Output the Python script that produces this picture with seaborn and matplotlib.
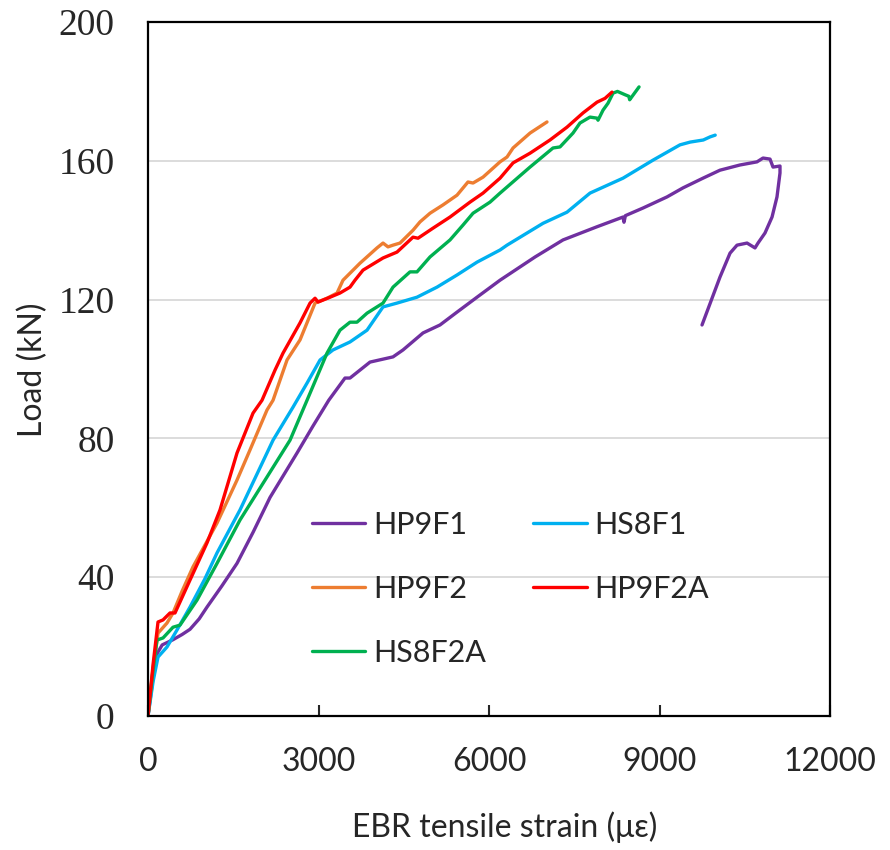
import numpy as np
import matplotlib
matplotlib.use("Agg")
import matplotlib.pyplot as plt
import seaborn as sns

# strain (micro-strain) vs load (kN)
hp9f1_x = [0, 80, 160, 250, 440, 600, 739, 900, 1038, 1300, 1566, 1850, 2147, 2622, 2900, 3180, 3466,
           3554, 3906, 4311, 4487, 4839, 5138, 5437, 5789, 6194, 6811, 7302, 7900, 8358, 8375, 8400,
           8710, 9132, 9413, 9765, 10064, 10416, 10715, 10821, 10944, 10997, 11120, 11120, 11067,
           10980, 10856, 10733, 10680, 10540, 10364, 10241, 10064, 9748]
hp9f1_y = [0, 10, 18, 20.5, 22, 23.5, 25, 28, 31.4, 37.5, 44, 53, 63, 75.8, 83.5, 91, 97.4,
           97.4, 102, 103.5, 105.5, 110.4, 112.7, 116.4, 120.7, 125.6, 132.3, 137.2, 141, 143.8, 142.3, 144.2,
           146.4, 149.6, 152.2, 155, 157.3, 158.8, 159.7, 160.8, 160.5, 158.2, 158.5, 156.5, 149.6,
           143.8, 139.2, 136.3, 134.9, 136.3, 135.7, 133.4, 126.5, 112.7]

hs8f1_x = [0, 90, 176, 334, 510, 739, 1000, 1214, 1619, 2200, 2551, 2800, 3027, 3255, 3554, 3854,
           4135, 4381, 4733, 5085, 5437, 5789, 6194, 6317, 6951, 7372, 7777, 8358, 8886, 9360, 9540,
           9770, 9890, 9980]
hs8f1_y = [0, 10, 17, 19.9, 24.8, 31.4, 39.5, 47, 59.4, 79.5, 89, 96, 102.6, 105.5, 107.8, 111.2,
           117.9, 119, 120.7, 123.6, 127.1, 130.8, 134.3, 135.7, 142, 145.2, 150.7, 155, 160.2, 164.6, 165.4,
           166, 166.9, 167.4]

hp9f2_x = [0, 90, 176, 334, 440, 600, 792, 1214, 1566, 1795, 2094, 2200, 2446, 2675, 2939, 3150,
           3326, 3431, 3730, 4029, 4135, 4223, 4311, 4434, 4663, 4786, 4962, 5191, 5437, 5630, 5719,
           5895, 6194, 6317, 6423, 6722, 7020]
hp9f2_y = [0, 14, 23.9, 26.8, 29.7, 36, 43, 55.6, 68, 76.7, 88.2, 91, 102.6, 108.4, 119, 120.4,
           121.9, 125.6, 130.5, 134.9, 136.3, 135.2, 135.7, 136.3, 140, 142.4, 144.9, 147.3, 150.1, 153.9, 153.6,
           155.3, 159.7, 161.1, 163.7, 168, 171.2]

hp9f2a_x = [0, 90, 176, 264, 387, 475, 739, 1038, 1267, 1566, 1848, 2006, 2235, 2376, 2675, 2851,
            2939, 2992, 3203, 3378, 3554, 3642, 3783, 4135, 4381, 4663, 4751, 5015, 5314, 5666, 5895,
            6194, 6423, 6722, 7073, 7372, 7654, 7900, 8041, 8164]
hp9f2a_y = [0, 15, 27.1, 27.7, 29.7, 29.7, 39.2, 49.9, 59.4, 75.8, 87.3, 91, 99.7, 104.6, 113.3, 119,
            120.4, 119.3, 120.7, 121.9, 123.6, 125.6, 128.5, 132, 133.7, 138, 137.7, 140.6, 143.8, 148.1, 150.7,
            155, 159.4, 162.2, 166, 169.7, 173.8, 176.9, 178, 179.8]

hs8f2a_x = [0, 80, 158, 264, 440, 563, 862, 1214, 1619, 2094, 2499, 2798, 3150, 3378, 3554, 3677,
            3854, 4135, 4311, 4610, 4733, 4962, 5314, 5543, 5719, 6018, 6194, 6722, 7126, 7249, 7478,
            7601, 7777, 7900, 7918, 8006, 8094, 8182, 8260, 8400, 8460, 8475, 8640]
hs8f2a_y = [0, 12, 21.9, 22.5, 25.6, 26.2, 33.4, 44, 56.5, 68.9, 79.5, 91, 104.6, 111.2, 113.5, 113.5,
            116.1, 119, 123.6, 128, 128, 132.3, 137.2, 141.5, 144.9, 148.1, 150.7, 158.2, 163.7, 164, 168,
            170.9, 172.6, 172.3, 171.7, 174.6, 176.6, 179.5, 180, 179, 178.6, 177.6, 181.3]

series = [("HP9F1", hp9f1_x, hp9f1_y, "#7030A0"),
          ("HP9F2", hp9f2_x, hp9f2_y, "#ED7D31"),
          ("HS8F2A", hs8f2a_x, hs8f2a_y, "#00B050"),
          ("HS8F1", hs8f1_x, hs8f1_y, "#00B0F0"),
          ("HP9F2A", hp9f2a_x, hp9f2a_y, "#FF0000")]
draw_order = ["HP9F1", "HS8F1", "HP9F2", "HS8F2A", "HP9F2A"]

sns.set_style("white")
plt.rcParams['font.family'] = ['Lato', 'DejaVu Sans']

fig = plt.figure(figsize=(8.9, 8.5), dpi=100)
ax = fig.add_axes([0.1663, 0.1576, 0.7663, 0.8165])

lines = {}
for name in draw_order:
    s = [t for t in series if t[0] == name][0]
    sns.lineplot(x=s[1], y=s[2], sort=False, estimator=None, color=s[3], lw=2.4, ax=ax)
    lines[name] = ax.lines[-1]

ax.set_xlim(0, 12000)
ax.set_ylim(0, 200)
ax.set_xticks([0, 3000, 6000, 9000, 12000])
ax.set_yticks([0, 40, 80, 120, 160, 200])
ax.yaxis.grid(True, color="#d9d9d9", lw=1.3)
ax.xaxis.grid(False)
for sp in ax.spines.values():
    sp.set_visible(True)
    sp.set_color("black")
    sp.set_linewidth(1.6)

ax.tick_params(axis="x", direction="in", length=8, width=1.5, bottom=True, labelsize=23, pad=22)
ax.tick_params(axis="y", length=0, pad=24)
for lab in ax.get_yticklabels():
    lab.set_fontfamily("Liberation Serif")
    lab.set_fontsize(27)

ax.set_xlabel("EBR tensile strain (με)", fontsize=23)
ax.set_ylabel("Load (kN)", fontsize=23)
ax.xaxis.set_label_coords(0.523, -0.138)
ax.yaxis.set_label_coords(-0.147, 0.4986)

ax.legend([lines[s[0]] for s in series], [s[0] for s in series], ncol=2, frameon=False,
          fontsize=22, loc="upper left", bbox_to_anchor=(0.218, 0.318), borderpad=0,
          handlelength=1.75, handletextpad=0.25, columnspacing=1.55, labelspacing=1.18)

fig.savefig("out.png", dpi=100)
